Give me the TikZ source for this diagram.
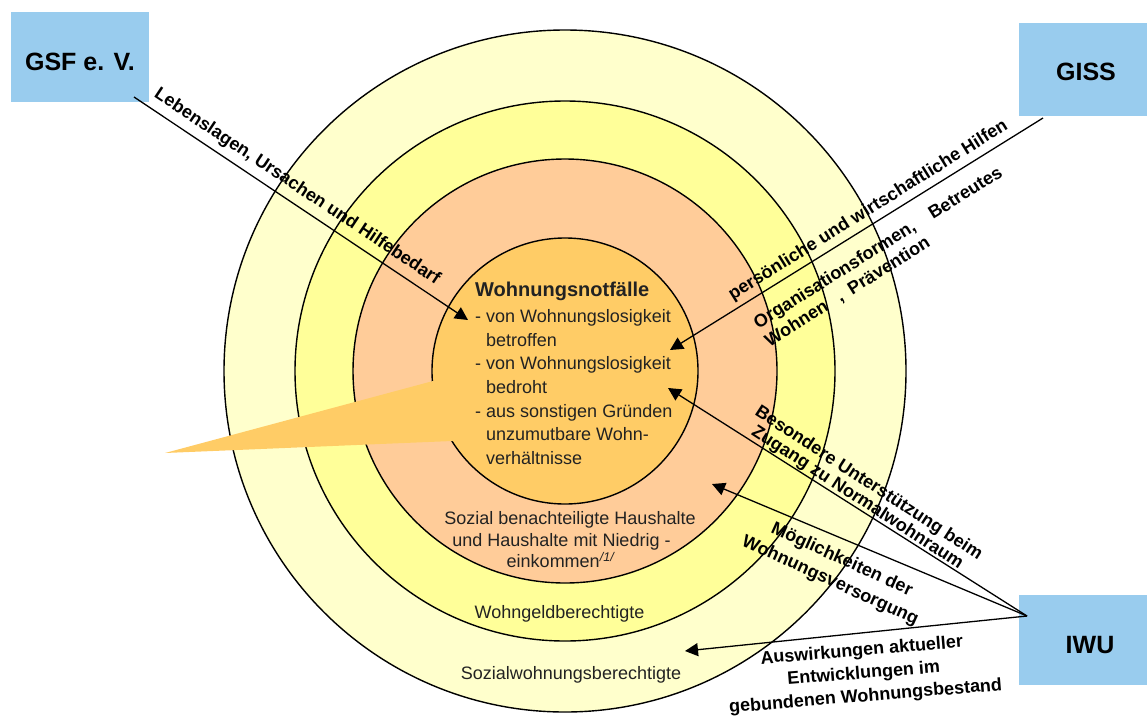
\documentclass[tikz,border=0pt]{standalone}
\usepackage{fontspec}
\setmainfont{Liberation Sans}
\usetikzlibrary{arrows.meta}
\definecolor{ringA}{HTML}{FFFFCC}
\definecolor{ringB}{HTML}{FFFF99}
\definecolor{ringC}{HTML}{FFCC99}
\definecolor{core}{HTML}{FFCC66}
\definecolor{boxblue}{HTML}{99CCEE}
\definecolor{txt}{HTML}{222222}
\tikzset{
  ring/.style={circle, draw=black, line width=1.4pt, inner sep=0pt, outer sep=0pt},
  orgbox/.style={rectangle, fill=boxblue, inner sep=0pt},
  boxtxt/.style={inner sep=0pt, font=\fontsize{25}{30}\selectfont\bfseries},
  conn/.style={draw=black, line width=1.3pt, -{Triangle[length=13pt,width=13pt]}},
  lbl/.style={font=\fontsize{18}{21}\selectfont\bfseries, inner sep=0pt, anchor=base},
  lblw/.style={lbl, anchor=base west},
  ringtxt/.style={font=\fontsize{18}{21}\selectfont, text=txt, inner sep=0pt, anchor=base},
  coretxt/.style={font=\fontsize{18}{21}\selectfont, text=txt, inner sep=0pt, anchor=base west},
  coretitle/.style={font=\fontsize{20}{24}\selectfont\bfseries, text=txt, inner sep=0pt, anchor=base west},
}
\begin{document}
\begin{tikzpicture}[x=1pt,y=-1pt]
\useasboundingbox (0,0) rectangle (1147,718);
% rings
\node[ring, fill=ringA, minimum size=682pt] (outer) at (565,371) {};
\node[ring, fill=ringB, minimum size=540pt] (wohngeld) at (565,371) {};
\node[ring, fill=ringC, minimum size=424pt] (sozial) at (565,371) {};
\node[ring, fill=core, minimum size=266pt] (kern) at (565,371) {};
% wedge
\fill[core] (165,453) -- (433,381) -- (462,381) -- (462,441) -- (452,441) -- cycle;
% boxes
\node[orgbox, minimum width=138pt, minimum height=90pt] (gsf) at (80,57) {};
\node[orgbox, minimum width=128pt, minimum height=93pt] (giss) at (1083,69.5) {};
\node[orgbox, minimum width=128pt, minimum height=90pt] (iwu) at (1083,640) {};
\node[boxtxt] (gsft) at (80,62) {GSF e. V.};
\node[boxtxt] (gisst) at (1086,72) {GISS};
\node[boxtxt] (iwut) at (1090,645) {IWU};
% connector ends
\coordinate (gsfS) at (134,97);
\coordinate (gsfT) at (468,320);
\coordinate (gissS) at (1043,118);
\coordinate (gissT) at (670,350);
\coordinate (iwuS) at (1027,616);
\coordinate (iwuT1) at (668,388);
\coordinate (iwuT2) at (712,484);
\coordinate (iwuT3) at (685,651);
\draw[conn] (gsfS) -- (gsfT);
\draw[conn] (gissS) -- (gissT);
\draw[conn] (iwuS) -- (iwuT1);
\draw[conn] (iwuS) -- (iwuT2);
\draw[conn] (iwuS) -- (iwuT3);
% connector labels
\node[lbl, rotate=-33.7] (tgsf) at (294.5,190.8) {Lebenslagen, Ursachen und Hilfebedarf};
\node[lbl, rotate=31.9] (tgiss) at (870.8,214.5) {persönliche und wirtschaftliche Hilfen};
\node[lblw, rotate=32] (torg1) at (758.2,329.2) {Organisationsformen,\hspace{19pt}Betreutes};
\node[lblw, rotate=32] (torg2) at (769.4,347.2) {Wohnen\hspace{13pt},\hspace{9pt}Prävention};
\node[lbl, rotate=-33] (tbes1) at (866,487.5) {Besondere Unterstützung beim};
\node[lbl, rotate=-33] (tbes2) at (854.7,501.9) {Zugang zu Normalwohnraum};
\node[lbl, rotate=-24.5] (tmog1) at (839.8,564.2) {Möglichkeiten der};
\node[lbl, rotate=-24.5] (tmog2) at (828.1,585.1) {Wohnungsversorgung};
\node[lbl, rotate=4.7] (taus1) at (862.2,655.7) {Auswirkungen aktueller};
\node[lbl, rotate=4.7] (taus2) at (864.1,678.6) {Entwicklungen im};
\node[lbl, rotate=4.7] (taus3) at (866,701.5) {gebundenen Wohnungsbestand};
% ring texts
\node[ringtxt] (rs1) at (570,524.5) {Sozial benachteiligte Haushalte};
\node[ringtxt] (rs2) at (561.5,546.5) {und Haushalte mit Niedrig -};
\node[ringtxt] (rs3) at (560.5,567.5) {einkommen\textsuperscript{\itshape /1/}};
\node[ringtxt] (rw) at (559.5,618.5) {Wohngeldberechtigte};
\node[ringtxt] (rsw) at (571,679.5) {Sozialwohnungsberechtigte};
% core texts
\node[coretitle] (k0) at (475,296) {Wohnungsnotfälle};
\node[coretxt] (k1) at (475,322.7) {- von Wohnungslosigkeit};
\node[coretxt] (k2) at (486,346.3) {betroffen};
\node[coretxt] (k3) at (475,369.9) {- von Wohnungslosigkeit};
\node[coretxt] (k4) at (486,393.5) {bedroht};
\node[coretxt] (k5) at (475,417.1) {- aus sonstigen Gründen};
\node[coretxt] (k6) at (486,440.7) {unzumutbare Wohn-};
\node[coretxt] (k7) at (486,464.3) {verhältnisse};
\end{tikzpicture}
\end{document}
